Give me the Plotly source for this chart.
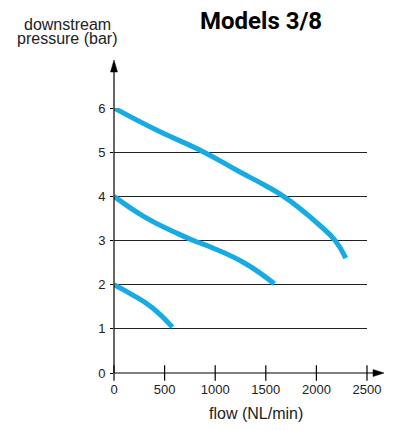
import plotly.graph_objects as go

# curves: flow (NL/min) vs downstream pressure (bar)
flow_6bar = [0, 420, 890, 1245, 1500, 1675, 1840, 2005, 2185, 2290]
pres_6bar = [6.0, 5.5, 5.0, 4.55, 4.24, 4.0, 3.72, 3.40, 3.0, 2.6]

flow_4bar = [0, 305, 636, 785, 966, 1297, 1584]
pres_4bar = [4.0, 3.53, 3.15, 3.0, 2.84, 2.48, 2.02]

flow_2bar = [0, 174, 372, 577]
pres_2bar = [2.0, 1.78, 1.49, 1.04]

x_ticks = [0, 500, 1000, 1500, 2000, 2500]
y_ticks = [0, 1, 2, 3, 4, 5, 6]

blue = '#17abe3'
sans = 'Liberation Sans, Arial, sans-serif'

# page body has an 8px margin, so the figure is shrunk and shifted by that much
W, H = 377, 414
L, T, PW, PH = 106, 100, 253, 265


def px(X):
    return (X - 114) / PW


def py(Y):
    return 1 - (Y - 108) / PH


fig = go.Figure()

for fx, fy in [(flow_6bar, pres_6bar), (flow_4bar, pres_4bar), (flow_2bar, pres_2bar)]:
    fig.add_trace(go.Scatter(x=fx, y=fy, mode='lines',
                             line=dict(color=blue, width=5, shape='spline', smoothing=1.3),
                             cliponaxis=False, hoverinfo='skip'))

# x ticks crossing the axis line
fig.add_trace(go.Scatter(x=x_ticks, y=[0] * len(x_ticks), mode='markers',
                         marker=dict(symbol='line-ns', size=11,
                                     line=dict(color='black', width=1.2)),
                         cliponaxis=False, hoverinfo='skip'))

fig.update_layout(
    width=W, height=H,
    margin=dict(l=L, r=W - L - PW, t=T, b=H - T - PH),
    paper_bgcolor='white', plot_bgcolor='white',
    showlegend=False,
    font=dict(family=sans, color='black'),
)

fig.update_xaxes(range=[0, 2500], tickvals=x_ticks, ticks='', showgrid=False,
                 zeroline=False, showline=False, automargin=False,
                 ticklabelstandoff=7,
                 tickfont=dict(family=sans, size=13, color='#222'))
fig.update_yaxes(range=[0, 6], tickvals=y_ticks, ticks='outside', ticklen=3,
                 tickwidth=1.2, tickcolor='black', showgrid=True,
                 gridcolor='#222', gridwidth=1.2, zeroline=False, showline=False,
                 automargin=False, ticklabelstandoff=2,
                 tickfont=dict(family=sans, size=13, color='#222'))

# axis lines with arrowheads (paper coords, pixel offsets converted)
hw = 3.5  # half width of arrowheads in px
fig.add_shape(type='line', xref='paper', yref='paper',
              x0=0, y0=0, x1=0, y1=py(70), line=dict(color='black', width=1.2))
fig.add_shape(type='path', xref='paper', yref='paper',
              path=f'M {-hw / PW} {py(72)} L 0 {py(60)} L {hw / PW} {py(72)} Z',
              fillcolor='black', line=dict(color='black', width=0.5))
fig.add_shape(type='line', xref='paper', yref='paper',
              x0=0, y0=0, x1=px(376), y1=0, line=dict(color='black', width=1.2))
fig.add_shape(type='path', xref='paper', yref='paper',
              path=f'M {px(373)} {hw / PH} L {px(384)} 0 L {px(373)} {-hw / PH} Z',
              fillcolor='black', line=dict(color='black', width=0.5))

fig.add_annotation(x=px(67), y=py(24), xref='paper', yref='paper',
                   xanchor='center', yanchor='middle',
                   text='downstream', showarrow=False,
                   font=dict(family=sans, size=16, color='#222'))
fig.add_annotation(x=px(67), y=py(38), xref='paper', yref='paper',
                   xanchor='center', yanchor='middle',
                   text='pressure (bar)', showarrow=False,
                   font=dict(family=sans, size=16, color='#222'))
fig.add_annotation(x=px(261), y=py(21), xref='paper', yref='paper',
                   xanchor='center', yanchor='middle',
                   text='<b>Models 3/8</b>', showarrow=False,
                   font=dict(family='Roboto', size=24, color='black'))
fig.add_annotation(x=px(256), y=py(413), xref='paper', yref='paper',
                   xanchor='center', yanchor='middle',
                   text='flow (NL/min)', showarrow=False,
                   font=dict(family=sans, size=16, color='#222'))

fig.write_html("out.html")
